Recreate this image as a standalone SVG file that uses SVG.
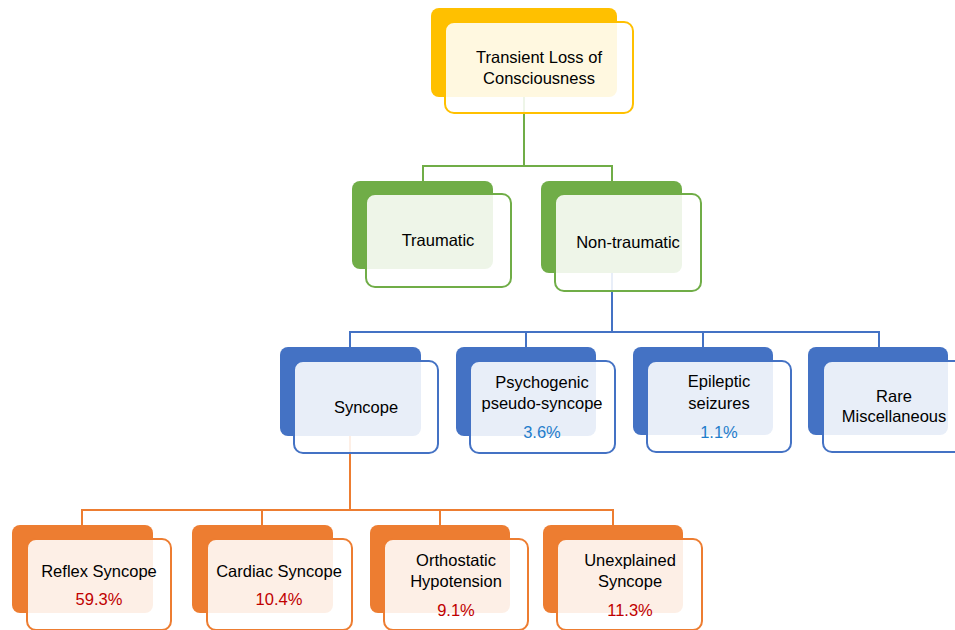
<svg xmlns="http://www.w3.org/2000/svg" width="955" height="630" viewBox="0 0 955 630">
<style>
.bg{fill:#fff}
.conn{fill:none;stroke-width:2}
.back{stroke:none}
.front{fill:#fff;fill-opacity:0.88;stroke-width:2}
.y .back{fill:#FFC000}.y .front{stroke:#FFC000}
.g .back{fill:#70AD47}.g .front{stroke:#70AD47}
.b .back{fill:#4472C4}.b .front{stroke:#4472C4}
.o .back{fill:#ED7D31}.o .front{stroke:#ED7D31}
text{font-family:"Liberation Sans",Arial,sans-serif;font-size:16.5px;fill:#000;text-anchor:middle}
.pb{fill:#1F7DCB}
.pr{fill:#C00000}
</style>
<rect class="bg" x="0" y="0" width="955" height="630"/>
<g id="connectors">
<path class="conn" stroke="#70AD47" d="M524 97V166M423 166H612M423 165V181M612 165V181"/>
<path class="conn" stroke="#4472C4" d="M612 273V332M350 332H879M350 331V347M526 331V347M703 331V347M879 331V347"/>
<path class="conn" stroke="#ED7D31" d="M350 436V510M82 510H613M82 509V525M262 509V525M440 509V525M613 509V525"/>
</g>
<g id="n-tloc" class="y">
<rect class="back" x="431" y="8" width="186" height="89" rx="8"/>
<rect class="front" x="445" y="22" width="188" height="91" rx="9"/>
<text x="539" y="63">Transient Loss of</text>
<text x="539" y="84">Consciousness</text>
</g>
<g id="n-traumatic" class="g">
<rect class="back" x="352" y="181" width="141" height="88" rx="8"/>
<rect class="front" x="366" y="194" width="145" height="93" rx="9"/>
<text x="438" y="246">Traumatic</text>
</g>
<g id="n-nontraumatic" class="g">
<rect class="back" x="541" y="181" width="141" height="92" rx="8"/>
<rect class="front" x="555" y="194" width="146" height="97" rx="9"/>
<text x="628" y="248">Non-traumatic</text>
</g>
<g id="n-syncope" class="b">
<rect class="back" x="280" y="347" width="141" height="89" rx="8"/>
<rect class="front" x="294" y="361" width="144" height="92" rx="9"/>
<text x="366" y="413">Syncope</text>
</g>
<g id="n-psychogenic" class="b">
<rect class="back" x="456" y="347" width="140" height="89" rx="8"/>
<rect class="front" x="470" y="361" width="145" height="92" rx="9"/>
<text x="542" y="388">Psychogenic</text>
<text x="542" y="409">pseudo-syncope</text>
<text class="pb" x="542" y="438">3.6%</text>
</g>
<g id="n-epileptic" class="b">
<rect class="back" x="633" y="347" width="140" height="88" rx="8"/>
<rect class="front" x="647" y="361" width="144" height="91" rx="9"/>
<text x="719" y="387">Epileptic</text>
<text x="719" y="409">seizures</text>
<text class="pb" x="719" y="438">1.1%</text>
</g>
<g id="n-rare" class="b">
<rect class="back" x="808" y="347" width="140" height="88" rx="8"/>
<rect class="front" x="823" y="361" width="144" height="91" rx="9"/>
<text x="894" y="402">Rare</text>
<text x="894" y="422">Miscellaneous</text>
</g>
<g id="n-reflex" class="o">
<rect class="back" x="12" y="525" width="141" height="88" rx="8"/>
<rect class="front" x="27" y="539" width="144" height="91" rx="9"/>
<text x="99" y="577">Reflex Syncope</text>
<text class="pr" x="99" y="605">59.3%</text>
</g>
<g id="n-cardiac" class="o">
<rect class="back" x="192" y="525" width="141" height="88" rx="8"/>
<rect class="front" x="207" y="539" width="145" height="91" rx="9"/>
<text x="279" y="577">Cardiac Syncope</text>
<text class="pr" x="279" y="605">10.4%</text>
</g>
<g id="n-orthostatic" class="o">
<rect class="back" x="370" y="525" width="140" height="88" rx="8"/>
<rect class="front" x="384" y="539" width="144" height="91" rx="9"/>
<text x="456" y="566">Orthostatic</text>
<text x="456" y="587">Hypotension</text>
<text class="pr" x="456" y="616">9.1%</text>
</g>
<g id="n-unexplained" class="o">
<rect class="back" x="543" y="525" width="140" height="88" rx="8"/>
<rect class="front" x="557" y="539" width="145" height="91" rx="9"/>
<text x="630" y="566">Unexplained</text>
<text x="630" y="587">Syncope</text>
<text class="pr" x="630" y="616">11.3%</text>
</g>
</svg>
